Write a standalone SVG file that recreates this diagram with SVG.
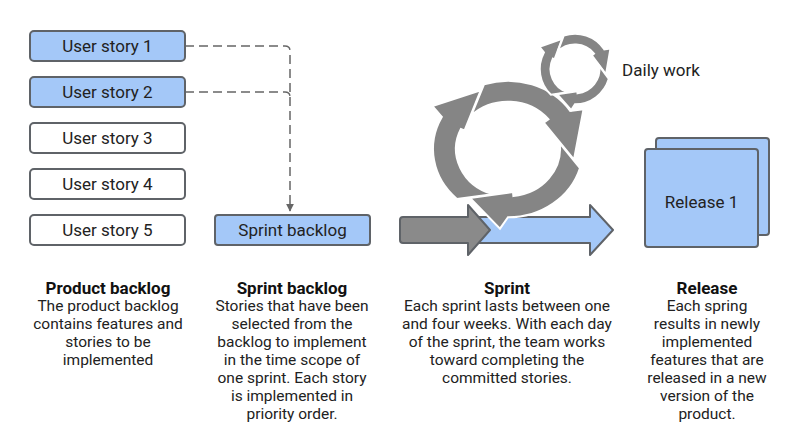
<svg xmlns="http://www.w3.org/2000/svg" xmlns:xlink="http://www.w3.org/1999/xlink" width="800" height="446" viewBox="0 0 800 446">
<style>
.box{stroke:#5f6368;stroke-width:2}
.blue{fill:#a4c8f8}
.white{fill:#ffffff}
.lbl{font-family:Roboto,"Liberation Sans",sans-serif;font-size:17px;fill:#222;text-anchor:middle}
.ttl{font-family:Roboto,"Liberation Sans",sans-serif;font-size:17px;font-weight:bold;fill:#111;text-anchor:middle}
.body{font-family:Roboto,"Liberation Sans",sans-serif;font-size:15.5px;fill:#222;text-anchor:middle}
.dash{fill:none;stroke:#666;stroke-width:1.5;stroke-dasharray:9 5}
.seg{fill:#858585;stroke:#fff;stroke-width:2;vector-effect:non-scaling-stroke;stroke-linejoin:miter}
.arr{stroke:#5f6368;stroke-width:2;stroke-linejoin:round}
</style>
<defs>
<marker id="ah" viewBox="0 0 10 10" refX="9" refY="5" markerWidth="8" markerHeight="8" markerUnits="userSpaceOnUse" orient="auto">
<path d="M0,0 L10,5 L0,10 Z" fill="#666"/>
</marker>
<g id="cyc">
<path class="seg" d="M-51.1,54.9 A75,75 0 0 1 -66.2,-35.2 L-75.5,-47.2 L-27.3,-64.4 L-43.5,-20.3 L-47.1,-22 A52,52 0 0 0 -15.6,49.6 Z"/>
<path class="seg" d="M-24,-71 A75,75 0 0 1 62.2,-41.9 L75.5,-43.6 L66,11.6 L35.7,-28.9 L40.4,-32.7 A52,52 0 0 0 -36.8,-36.8 Z"/>
<path class="seg" d="M72,20.9 A75,75 0 0 1 0,75 L-8,87.5 L-38,53.8 L5,47.3 L5.4,51.7 A52,52 0 0 0 51.6,-6.5 Z"/>
</g>
</defs>
<rect width="800" height="446" fill="#fff"/>

<g id="connectors">
<path class="dash" d="M185,46 H285 Q290,46 290,51 V211" marker-end="url(#ah)"/>
<path class="dash" d="M185,92 H285 Q290,92 290,97"/>
</g>

<g id="story1"><rect class="box blue" x="30" y="31" width="155" height="30" rx="4"/><text class="lbl" x="107.5" y="52">User story 1</text></g>
<g id="story2"><rect class="box blue" x="30" y="77" width="155" height="30" rx="4"/><text class="lbl" x="107.5" y="98">User story 2</text></g>
<g id="story3"><rect class="box white" x="30" y="123" width="155" height="30" rx="4"/><text class="lbl" x="107.5" y="144">User story 3</text></g>
<g id="story4"><rect class="box white" x="30" y="169" width="155" height="30" rx="4"/><text class="lbl" x="107.5" y="190">User story 4</text></g>
<g id="story5"><rect class="box white" x="30" y="215" width="155" height="30" rx="4"/><text class="lbl" x="107.5" y="236">User story 5</text></g>

<g id="sprint-backlog"><rect class="box blue" x="215" y="215" width="155" height="30" rx="3"/><text class="lbl" x="292.5" y="236">Sprint backlog</text></g>

<g id="sprint">
<path class="arr" fill="#a4c8f8" d="M470,217 H590 V205 L613,230 L590,255 V243 H470 Z"/>
<path class="arr" fill="#8a8a8a" d="M403,217 H468 V205 L490,230 L468,255 V243 H403 Q400,243 400,240 V220 Q400,217 403,217 Z"/>
<use xlink:href="#cyc" href="#cyc" transform="translate(508,149) scale(1,0.91)"/>
<use xlink:href="#cyc" href="#cyc" transform="translate(575,69) scale(0.47)"/>
</g>

<g id="daily-work"><text class="lbl" x="661" y="76">Daily work</text></g>

<g id="release">
<rect class="box blue" x="656" y="138" width="113" height="97" rx="3"/>
<rect class="box blue" x="645" y="149" width="113" height="98" rx="3"/>
<text class="lbl" x="701.5" y="208">Release 1</text>
</g>

<g id="col-product">
<text class="ttl" x="108" y="294">Product backlog</text>
<text class="body" x="108" y="311">The product backlog</text>
<text class="body" x="108" y="329">contains features and</text>
<text class="body" x="108" y="347">stories to be</text>
<text class="body" x="108" y="365">implemented</text>
</g>
<g id="col-sprint-backlog">
<text class="ttl" x="292" y="294">Sprint backlog</text>
<text class="body" x="292" y="311">Stories that have been</text>
<text class="body" x="292" y="329">selected from the</text>
<text class="body" x="292" y="347">backlog to implement</text>
<text class="body" x="292" y="365">in the time scope of</text>
<text class="body" x="292" y="383">one sprint. Each story</text>
<text class="body" x="292" y="401">is implemented in</text>
<text class="body" x="292" y="419">priority order.</text>
</g>
<g id="col-sprint">
<text class="ttl" x="507" y="294">Sprint</text>
<text class="body" x="507" y="311">Each sprint lasts between one</text>
<text class="body" x="507" y="329">and four weeks. With each day</text>
<text class="body" x="507" y="347">of the sprint, the team works</text>
<text class="body" x="507" y="365">toward completing the</text>
<text class="body" x="507" y="383">committed stories.</text>
</g>
<g id="col-release">
<text class="ttl" x="707" y="294">Release</text>
<text class="body" x="707" y="311">Each spring</text>
<text class="body" x="707" y="329">results in newly</text>
<text class="body" x="707" y="347">implemented</text>
<text class="body" x="707" y="365">features that are</text>
<text class="body" x="707" y="383">released in a new</text>
<text class="body" x="707" y="401">version of the</text>
<text class="body" x="707" y="419">product.</text>
</g>
</svg>
